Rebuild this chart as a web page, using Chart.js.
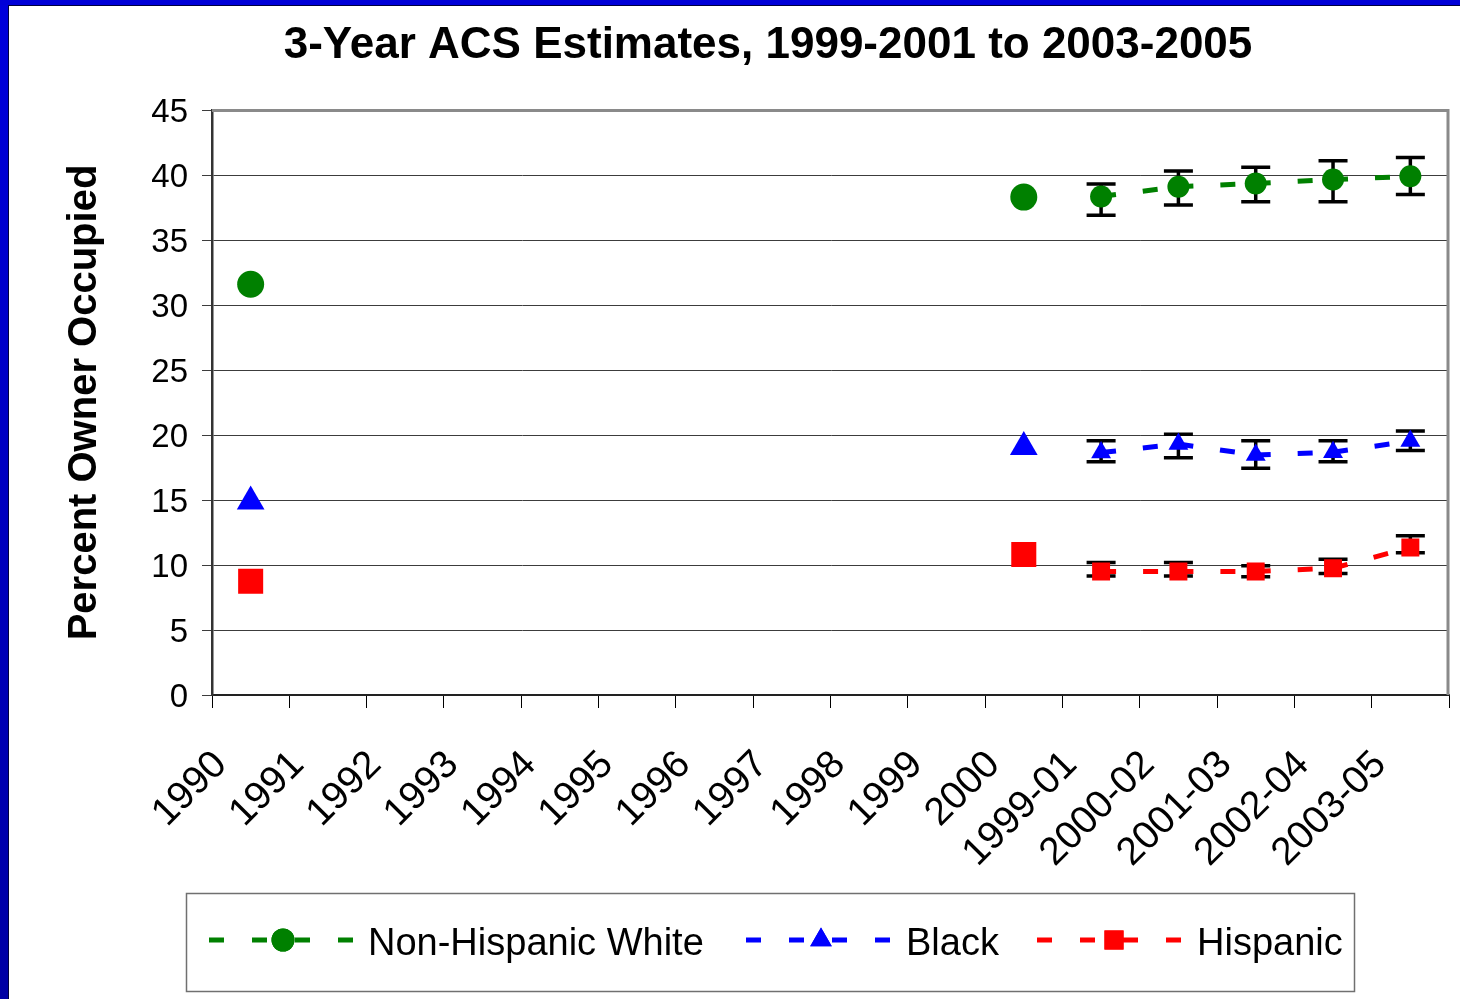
<!DOCTYPE html>
<html>
<head>
<meta charset="utf-8">
<script src="https://cdn.jsdelivr.net/npm/chart.js@4.4.0/dist/chart.umd.min.js"></script>
<style>
html,body{margin:0;padding:0;background:#fff;overflow:hidden}
#wrap{position:absolute;left:0;top:0;width:1460px;height:999px}
</style>
</head>
<body>
<div id="wrap"><canvas id="c" width="1460" height="999"></canvas></div>
<script>
// ---- data ----
const categories = ['1990','1991','1992','1993','1994','1995','1996','1997','1998','1999','2000','1999-01','2000-02','2001-03','2002-04','2003-05'];
const yTickValues = [0,5,10,15,20,25,30,35,40,45];
const seriesNames = ['Non-Hispanic White','Black','Hispanic'];
const whiteValues    = [31.6, null,null,null,null,null,null,null,null,null, 38.3, 38.35, 39.1, 39.35, 39.65, 39.9];
const blackValues    = [14.88,null,null,null,null,null,null,null,null,null, 19.08, 18.65, 19.3, 18.46, 18.68, 19.54];
const hispanicValues = [8.75, null,null,null,null,null,null,null,null,null, 10.8, 9.5, 9.5, 9.5, 9.75, 11.35];
const whiteLow     = [null,null,null,null,null,null,null,null,null,null,null, 36.9, 37.7, 37.95, 37.95, 38.5];
const whiteHigh    = [null,null,null,null,null,null,null,null,null,null,null, 39.3, 40.3, 40.6, 41.1, 41.35];
const blackLow     = [null,null,null,null,null,null,null,null,null,null,null, 17.95, 18.25, 17.45, 17.95, 18.8];
const blackHigh    = [null,null,null,null,null,null,null,null,null,null,null, 19.55, 20.05, 19.55, 19.55, 20.3];
const hispanicLow  = [null,null,null,null,null,null,null,null,null,null,null, 9.15, 9.15, 9.1, 9.35, 10.95];
const hispanicHigh = [null,null,null,null,null,null,null,null,null,null,null, 10.2, 10.2, 9.95, 10.45, 12.25];

const FONT = '"Liberation Sans", Arial, sans-serif';
const GREEN = '#008000', BLUE = '#0000ff', RED = '#ff0000';
const LAST_CENSUS = 10;

function makeDataset(label, data, color, style, rBig, rSmall){
  return {
    label, data,
    borderColor: color, backgroundColor: color,
    pointBackgroundColor: color, pointBorderColor: color,
    pointStyle: style,
    pointRadius: ctx => ctx.dataIndex <= LAST_CENSUS ? rBig : rSmall,
    pointHoverRadius: ctx => ctx.dataIndex <= LAST_CENSUS ? rBig : rSmall,
    pointBorderWidth: 0,
    borderWidth: 5,
    borderDash: [15, 27],
    borderCapStyle: 'butt',
    spanGaps: false,
    tension: 0,
    segment: {
      borderColor: ctx => ctx.p0DataIndex < LAST_CENSUS + 1 ? 'rgba(0,0,0,0)' : undefined,
      borderDashOffset: ctx => ctx.p0DataIndex * 0.001
    }
  };
}

const errorSets = [
  {low: whiteLow, high: whiteHigh},
  {low: blackLow, high: blackHigh},
  {low: hispanicLow, high: hispanicHigh}
];

const zeroPad = () => ({left: 0, top: 0, right: 0, bottom: 0});

const framePlugin = {
  id: 'frame',
  beforeDraw(chart){
    const c = chart.ctx;
    c.save();
    c.fillStyle = '#fff';
    c.fillRect(0,0,chart.width,chart.height);
    const g = c.createLinearGradient(0,0,0,chart.height);
    g.addColorStop(0,'#0000dc'); g.addColorStop(1,'#0000a4');
    c.fillStyle = g;
    c.fillRect(0,0,8,chart.height);
    c.fillStyle = '#0000d8';
    c.fillRect(0,0,chart.width,5);
    c.fillStyle = '#000040';
    c.fillRect(8,5,1,chart.height-5);
    c.fillRect(8,5,chart.width-8,1);
    c.restore();
  },
  beforeDatasetsDraw(chart){
    const c = chart.ctx, a = chart.chartArea;
    c.save();
    c.strokeStyle = '#8a8a8a';
    c.lineWidth = 3;
    c.beginPath();
    c.moveTo(a.left, a.top+0.5);
    c.lineTo(a.right-1, a.top+0.5);
    c.lineTo(a.right-1, a.bottom);
    c.stroke();
    // error bars under markers
    const xs = chart.scales.x, ys = chart.scales.y;
    c.strokeStyle = '#000';
    c.lineWidth = 3.5;
    errorSets.forEach(es => {
      es.low.forEach((lo, i) => {
        const hi = es.high[i];
        if (lo == null || hi == null) return;
        const x = xs.getPixelForValue(i);
        const y1 = ys.getPixelForValue(lo), y2 = ys.getPixelForValue(hi);
        c.beginPath();
        c.moveTo(x, y1); c.lineTo(x, y2);
        c.moveTo(x-14.5, y1); c.lineTo(x+14.5, y1);
        c.moveTo(x-14.5, y2); c.lineTo(x+14.5, y2);
        c.stroke();
      });
    });
    c.restore();
  },
  afterDraw(chart){
    const c = chart.ctx;
    c.save();
    // title
    c.fillStyle = '#000';
    c.font = 'bold 44px ' + FONT;
    c.textAlign = 'center';
    c.textBaseline = 'alphabetic';
    c.fillText('3-Year ACS Estimates, 1999-2001 to 2003-2005', 768, 58);
    // legend box
    c.strokeStyle = '#707070';
    c.lineWidth = 1.5;
    c.strokeRect(186.5, 893.5, 1168, 98);
    const items = [
      {x0:209, x1:355, mx:283, tx:368, color:GREEN, style:'circle', r:11.5},
      {x0:746, x1:891, mx:821, tx:906, color:BLUE, style:'triangle', r:12.5},
      {x0:1037, x1:1183, mx:1114, tx:1197, color:RED, style:'rect', r:13.5}
    ];
    const ly = 940;
    items.forEach((it, k) => {
      c.strokeStyle = it.color;
      c.lineWidth = 5;
      c.setLineDash([15, 28]);
      c.lineCap = 'butt';
      c.beginPath();
      c.moveTo(it.x0, ly); c.lineTo(it.x1, ly);
      c.stroke();
      c.setLineDash([]);
      c.fillStyle = it.color;
      Chart.helpers.drawPoint(c, {pointStyle: it.style, radius: it.r, borderWidth: 0, rotation: 0}, it.mx, ly);
      c.fill();
      c.fillStyle = '#000';
      c.font = '38px ' + FONT;
      c.textAlign = 'left';
      c.textBaseline = 'alphabetic';
      c.fillText(seriesNames[k], it.tx, 955);
    });
    c.restore();
  }
};

const chart = new Chart(document.getElementById('c'), {
  type: 'line',
  data: {
    labels: categories,
    datasets: [
      makeDataset(seriesNames[0], whiteValues, GREEN, 'circle', 13.5, 11),
      makeDataset(seriesNames[1], blackValues, BLUE, 'triangle', 16, 11.5),
      makeDataset(seriesNames[2], hispanicValues, RED, 'rect', 17.7, 12.7)
    ]
  },
  options: {
    responsive: false,
    animation: false,
    devicePixelRatio: 1,
    layout: { autoPadding: false, padding: { left: 9, top: 110, right: 11, bottom: 120 } },
    plugins: {
      legend: { display: false },
      title: { display: false },
      tooltip: { enabled: false }
    },
    scales: {
      x: {
        type: 'category',
        offset: true,
        grid: { offset: true, drawOnChartArea: false, drawTicks: true, tickLength: 13, color: '#000', lineWidth: 1 },
        border: { display: true, color: '#222', width: 2 },
        ticks: {
          autoSkip: false, minRotation: 45, maxRotation: 45,
          font: { family: FONT, size: 39 }, color: '#000',
          padding: 34, labelOffset: -30
        },
        afterFit: s => { s.height = 999 - 695 - 120; s.paddingLeft = 0; s.paddingRight = 0; s.getPadding = zeroPad; }
      },
      y: {
        min: 0, max: 45,
        afterBuildTicks: s => { s.ticks = yTickValues.map(v => ({value: v})); },
        ticks: { font: { family: FONT, size: 33 }, color: '#000', padding: 14, labelOffset: 3 },
        grid: { color: '#3c3c3c', lineWidth: 1, tickLength: 10, drawTicks: true },
        border: { display: true, color: '#333', width: 2.5 },
        title: { display: true, text: 'Percent Owner Occupied', color: '#000',
                 font: { family: FONT, size: 40, weight: 'bold' }, padding: { top: 52, bottom: 0 } },
        afterFit: s => { s.width = 212 - 9; s.paddingTop = 0; s.paddingBottom = 0; s.getPadding = zeroPad; }
      }
    }
  },
  plugins: [framePlugin]
});
</script>
</body>
</html>
